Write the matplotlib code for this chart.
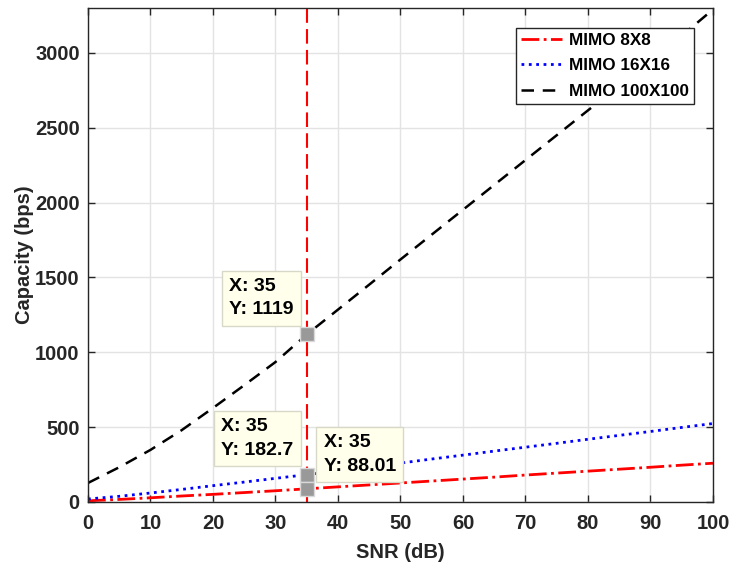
import matplotlib.pyplot as plt
import numpy as np

plt.rcParams['font.family'] = ['Liberation Sans', 'DejaVu Sans']
plt.rcParams['font.weight'] = 'bold'

# values, every 5 dB
snr_db = [0, 5, 10, 15, 20, 25, 30, 35, 40, 45, 50,
          55, 60, 65, 70, 75, 80, 85, 90, 95, 100]
cap_8x8 = [8, 17, 28, 40, 51, 63, 75, 88.01, 101, 114, 127,
           140, 153, 166, 180, 193, 206, 219, 232, 246, 259]
cap_16x16 = [20, 38, 60, 84, 109, 133, 158, 182.7, 208, 234, 260,
             287, 313, 340, 366, 392, 419, 445, 471, 498, 524]
cap_100x100 = [127, 232, 348, 480, 628, 780, 935, 1119, 1285, 1452, 1620,
               1786, 1952, 2118, 2284, 2450, 2616, 2782, 2948, 3114, 3290]
labels = ['MIMO 8X8', 'MIMO 16X16', 'MIMO 100X100']

tip_x = 35
tip_vals = [1119, 182.7, 88.01]
tip_text = ['X: 35\nY: 1119', 'X: 35\nY: 182.7', 'X: 35\nY: 88.01']
# pixel offsets of the tip box corner from the marker
tip_offsets = [(-13, 16), (-13, 16), (17, 14)]
tip_align = ['right', 'right', 'left']

dark = '#262626'

fig = plt.figure(figsize=(7.32, 5.66), dpi=100)
ax = fig.add_axes([0.1202, 0.1131, 0.8538, 0.8728])

ax.plot(snr_db, cap_8x8, color='red', lw=2, linestyle='-.', label=labels[0])
ax.plot(snr_db, cap_16x16, color='blue', lw=2, linestyle=':', label=labels[1])
ax.plot(snr_db, cap_100x100, color='black', lw=1.8, dashes=(5, 3.5),
        label=labels[2])
ax.axvline(tip_x, color='red', lw=1.5, dashes=(7, 3))

for val, txt, off, ha in zip(tip_vals, tip_text, tip_offsets, tip_align):
    ax.plot(tip_x, val, 's', ms=10, color='#999999', mec='#d9d9d9', mew=1,
            zorder=5)
    ax.annotate(txt, (tip_x, val), xytext=off, textcoords='offset pixels',
                ha=ha, va='bottom', multialignment='left', fontsize=14,
                fontweight='bold', color='black', linespacing=1.5, zorder=6,
                bbox=dict(boxstyle='square,pad=0.38', fc='#ffffec',
                          ec='#d8d8c8', lw=1))

ax.set_xlim(0, 100)
ax.set_ylim(0, 3300)
ax.set_xticks(np.arange(0, 101, 10))
ax.set_yticks(np.arange(0, 3001, 500))
ax.grid(True, color='#e3e3e3', lw=1)
ax.set_axisbelow(True)
ax.tick_params(direction='in', top=True, right=True, length=5, width=1,
               colors=dark, labelsize=14.5)
ax.tick_params(axis='x', pad=9)
ax.tick_params(axis='y', pad=6)
for lab in ax.get_xticklabels() + ax.get_yticklabels():
    lab.set_fontweight('bold')
for sp in ax.spines.values():
    sp.set_color(dark)
    sp.set_linewidth(1)

ax.set_xlabel('SNR (dB)', fontsize=14.5, fontweight='bold', color=dark,
              labelpad=7)
ax.set_ylabel('Capacity (bps)', fontsize=14.5, fontweight='bold', color=dark,
              labelpad=1)

leg = ax.legend(loc='upper right', bbox_to_anchor=(0.9696, 0.9595),
                borderaxespad=0, fontsize=12.3, frameon=True, fancybox=False,
                framealpha=1, handlelength=2.4, borderpad=0.3,
                labelspacing=0.6, handletextpad=0.4)
leg.get_frame().set_edgecolor(dark)
leg.get_frame().set_linewidth(1)
for t in leg.get_texts():
    t.set_fontweight('bold')

fig.savefig('out.png', dpi=100)
